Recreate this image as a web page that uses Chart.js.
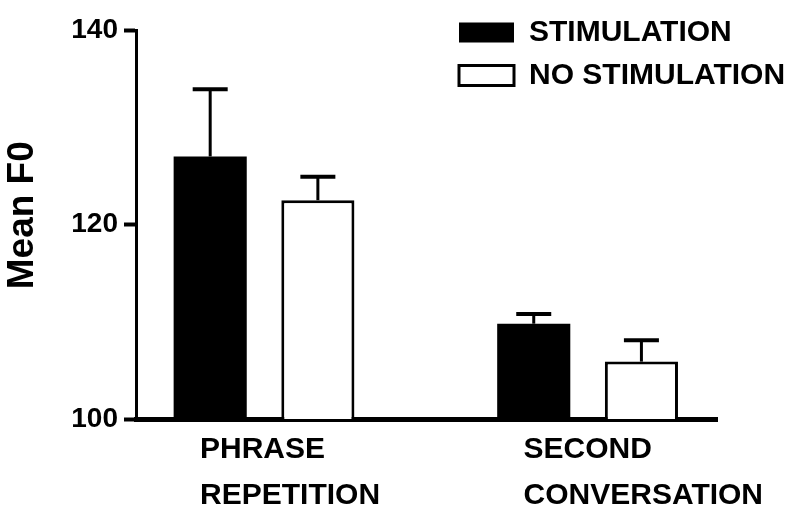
<!DOCTYPE html>
<html>
<head>
<meta charset="utf-8">
<script src="https://cdn.jsdelivr.net/npm/chart.js@4/dist/chart.umd.min.js"></script>
<style>
  html, body { margin: 0; padding: 0; background: #fff; }
  #wrap { width: 800px; height: 514px; }
</style>
</head>
<body>
<div id="wrap"><canvas id="c" width="800" height="514"></canvas></div>
<script>
// ---- data ----
const categories = [['PHRASE', 'REPETITION'], ['SECOND', 'CONVERSATION']];
const seriesNames = ['STIMULATION', 'NO STIMULATION'];
const stimulation = [127.0, 109.8];
const stimulationErr = [6.9, 1.0];
const noStimulation = [122.5, 105.9];
const noStimulationErr = [2.4, 2.2];
const yTicks = [100, 120, 140];
const yTitle = 'Mean F0';

const FONT = "'Liberation Sans', Arial, sans-serif";

const toPoints = (vals) => vals.map((v, i) => ({ x: i, y: v }));

const errorBars = {
  id: 'errorBars',
  afterDatasetsDraw(chart) {
    const ctx = chart.ctx;
    const yScale = chart.scales.y;
    chart.data.datasets.forEach((ds, di) => {
      const meta = chart.getDatasetMeta(di);
      meta.data.forEach((bar, i) => {
        const top = yScale.getPixelForValue(ds.data[i].y + ds.errors[i]);
        ctx.save();
        ctx.strokeStyle = '#000';
        ctx.lineWidth = 3;
        ctx.beginPath();
        ctx.moveTo(bar.x, bar.y);
        ctx.lineTo(bar.x, top);
        ctx.stroke();
        ctx.lineWidth = 4;
        ctx.beginPath();
        ctx.moveTo(bar.x - 17.5, top);
        ctx.lineTo(bar.x + 17.5, top);
        ctx.stroke();
        ctx.restore();
      });
    });
  }
};

const legendPlacer = {
  id: 'legendPlacer',
  beforeDraw(chart) {
    const lg = chart.legend;
    if (!lg) return;
    lg.left = 446;
    lg.top = 4.5;
    lg.width = 800 - lg.left;
    lg.right = 800;
    lg.height = 300;
    lg.bottom = lg.top + 300;
  }
};

new Chart(document.getElementById('c'), {
  type: 'bar',
  data: {
    datasets: [
      {
        label: seriesNames[0],
        data: toPoints(stimulation),
        errors: stimulationErr,
        backgroundColor: '#000',
        borderColor: '#000',
        borderWidth: 0
      },
      {
        label: seriesNames[1],
        data: toPoints(noStimulation),
        errors: noStimulationErr,
        backgroundColor: '#fff',
        borderColor: '#000',
        borderWidth: 3
      }
    ]
  },
  options: {
    responsive: false,
    animation: false,
    categoryPercentage: 0.6656,
    barPercentage: 0.679,
    layout: { padding: { top: 30, right: 83, bottom: 0, left: 0 } },
    plugins: {
      tooltip: { enabled: false },
      legend: {
        position: 'chartArea',
        align: 'start',
        labels: {
          boxWidth: 55,
          boxHeight: 20,
          padding: 13,
          color: '#000',
          font: { family: FONT, size: 30, weight: 'bold' }
        }
      }
    },
    scales: {
      x: {
        type: 'linear',
        offset: false,
        bounds: 'data',
        min: -0.3957,
        max: 1.4,
        grid: { display: false, offset: false },
        border: { display: true, color: '#000', width: 5 },
        afterBuildTicks: (s) => { s.ticks = categories.map((_, i) => ({ value: i })); },
        afterFit: (s) => { s.height = 95; s.paddingLeft = 0; s.paddingRight = 0; },
        ticks: {
          autoSkip: false,
          maxRotation: 0,
          minRotation: 0,
          align: 'start',
          labelOffset: -64,
          padding: 0,
          color: '#000',
          font: { family: FONT, size: 30, weight: 'bold', lineHeight: 46 / 30 },
          callback: (v, i) => categories[i]
        }
      },
      y: {
        min: yTicks[0],
        max: yTicks[yTicks.length - 1],
        afterBuildTicks: (s) => { s.ticks = yTicks.map(v => ({ value: v })); },
        afterFit: (s) => { s.width = 136; },
        grid: {
          drawOnChartArea: false,
          drawTicks: true,
          tickLength: 12,
          tickWidth: 4,
          tickColor: '#000'
        },
        border: { display: true, color: '#000', width: 3 },
        ticks: {
          padding: 6,
          color: '#000',
          font: { family: FONT, size: 28, weight: 'bold' }
        },
        title: {
          display: true,
          text: '\u2002' + yTitle,
          color: '#000',
          padding: { top: 1, bottom: 0 },
          font: { family: FONT, size: 37, weight: 'bold' }
        }
      }
    }
  },
  plugins: [errorBars, legendPlacer]
});
</script>
</body>
</html>
